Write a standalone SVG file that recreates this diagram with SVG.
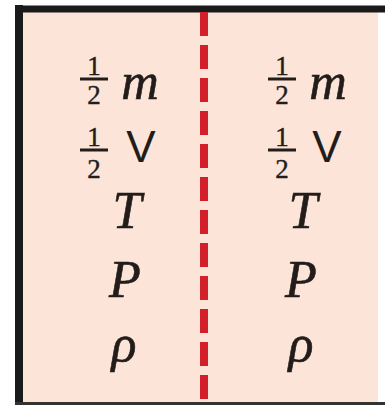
<svg xmlns="http://www.w3.org/2000/svg" width="385" height="405" viewBox="0 0 385 405">
<style>
.v{font-family:"Liberation Serif",serif;font-style:italic;fill:#221c1a;stroke:#221c1a;stroke-width:0.6;text-anchor:middle;font-size:52px}
.d{font-family:"Liberation Serif",serif;fill:#221c1a;stroke:#221c1a;stroke-width:0.4;text-anchor:middle;font-size:27px}
.bar{stroke:#221c1a;stroke-width:3}
.vv{font-family:"Liberation Sans",sans-serif;fill:#221c1a;font-size:44px;text-anchor:middle}
</style>
<rect x="0" y="0" width="385" height="405" fill="#ffffff"/>
<rect x="19" y="9" width="359" height="396" fill="#fce4d8"/>
<g id="frame">
<line x1="19" y1="5" x2="19" y2="405" stroke="#1a1a1a" stroke-width="8"/>
<line x1="15" y1="9" x2="385" y2="9" stroke="#1a1a1a" stroke-width="7"/>
<line x1="15" y1="403.5" x2="385" y2="403.5" stroke="#333" stroke-width="3"/>
</g>
<g id="connectors">
<line x1="204" y1="12" x2="204" y2="405" stroke="#d21f2a" stroke-width="8" stroke-dasharray="24 9"/>
</g>
<g id="left">
<text class="d" x="94" y="75">1</text><line class="bar" x1="80" y1="79" x2="108" y2="79"/><text class="d" x="94" y="104">2</text>
<text class="v" x="140" y="99">m</text>
<text class="d" x="94" y="146">1</text><line class="bar" x1="80" y1="150" x2="108" y2="150"/><text class="d" x="94" y="178">2</text>
<text class="vv" x="141" y="162">V</text>
<text class="v" x="127" y="228">T</text>
<text class="v" x="125" y="297">P</text>
<text class="v" x="124" y="361">ρ</text>
</g>
<g id="right">
<text class="d" x="282" y="75">1</text><line class="bar" x1="268" y1="79" x2="296" y2="79"/><text class="d" x="282" y="104">2</text>
<text class="v" x="328" y="99">m</text>
<text class="d" x="282" y="146">1</text><line class="bar" x1="268" y1="150" x2="296" y2="150"/><text class="d" x="282" y="178">2</text>
<text class="vv" x="327" y="162">V</text>
<text class="v" x="303" y="228">T</text>
<text class="v" x="301" y="297">P</text>
<text class="v" x="301" y="361">ρ</text>
</g>
</svg>
